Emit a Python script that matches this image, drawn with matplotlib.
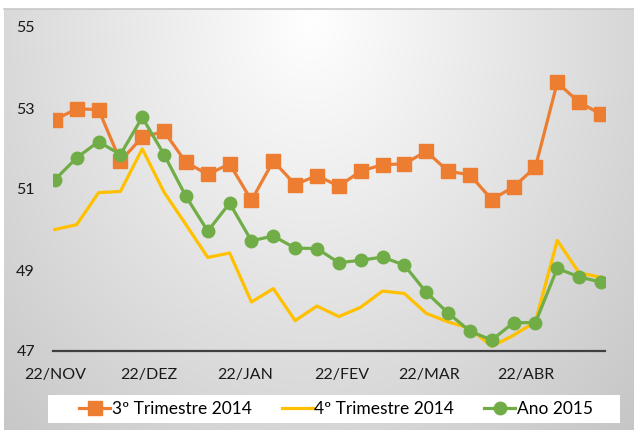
import numpy as np
import pandas as pd
import matplotlib
matplotlib.use("Agg")
import matplotlib.pyplot as plt
import matplotlib.dates as mdates
from matplotlib.patches import Rectangle

# -------- DATA --------
weeks = pd.date_range("2014-11-22", periods=26, freq="7D")

tri3_2014 = [52.71, 52.98, 52.96, 51.69, 52.28, 52.42, 51.66, 51.36, 51.62, 50.72,
             51.69, 51.11, 51.33, 51.07, 51.44, 51.60, 51.62, 51.93, 51.44, 51.35,
             50.74, 51.05, 51.54, 53.63, 53.14, 52.85]
tri4_2014 = [50.00, 50.12, 50.91, 50.94, 51.99, 50.92, 50.12, 49.31, 49.42, 48.21,
             48.54, 47.75, 48.11, 47.85, 48.08, 48.48, 48.42, 47.93, 47.72, 47.56,
             47.11, 47.39, 47.72, 49.73, 48.93, 48.82]
ano_2015 = [51.23, 51.77, 52.17, 51.85, 52.77, 51.85, 50.82, 49.96, 50.65, 49.72,
            49.84, 49.54, 49.53, 49.18, 49.24, 49.32, 49.12, 48.45, 47.94, 47.49,
            47.27, 47.70, 47.70, 49.04, 48.83, 48.70]

tick_dates = ["2014-11-22", "2014-12-22", "2015-01-22", "2015-02-22", "2015-03-22", "2015-04-22"]
tick_labels = ["22/NOV", "22/DEZ", "22/JAN", "22/FEV", "22/MAR", "22/ABR"]
y_ticks = [47, 49, 51, 53, 55]

ORANGE = "#ED7D31"
YELLOW = "#FFC000"
GREEN = "#70AD47"

plt.rcParams['font.family'] = ['Lato', 'DejaVu Sans']

W, H = 634, 430
fig = plt.figure(figsize=(W / 100, H / 100), dpi=100)

# -------- BACKGROUND (radial gray gradient) --------
bg = fig.add_axes([0, 0, 1, 1], zorder=-5)
xx, yy = np.meshgrid(np.arange(4, W), np.arange(9, H))
r = np.sqrt(((xx - 310) / 340.0) ** 2 + ((yy - 20) / 420.0) ** 2)
g = np.clip(255 - 42 * r, 192, 255) / 255.0
bg.imshow(np.dstack([g, g, g]), extent=(4, W, H, 9), aspect="auto")
bg.plot([4, W], [8.5, 8.5], color="#c8c8c8", lw=1.2)
bg.set_xlim(0, W)
bg.set_ylim(H, 0)
bg.axis("off")

# legend box
bg.add_patch(Rectangle((48, 395), 572, 28, facecolor="white", edgecolor="none", zorder=3))

# -------- PLOT --------
x0 = mdates.date2num(pd.Timestamp("2014-11-22"))
ax = fig.add_axes([53 / W, 1 - 351 / H, (605 - 53) / W, (351 - 27) / H])
ax.patch.set_alpha(0)
ax.set_xlim(x0 - 0.6, x0 + 176.3)
ax.set_ylim(47, 55)

ax.plot(weeks, tri3_2014, color=ORANGE, lw=2.3, marker="s", markersize=9.5,
        label="3º Trimestre 2014", zorder=3)
ax.plot(weeks, tri4_2014, color=YELLOW, lw=2.3, label="4º Trimestre 2014", zorder=2)
ax.plot(weeks, ano_2015, color=GREEN, lw=2.3, marker="o", markersize=9,
        label="Ano 2015", zorder=4)

ax.set_xticks(pd.to_datetime(tick_dates))
ax.set_xticklabels(tick_labels)
ax.set_yticks(y_ticks)
ax.tick_params(axis="both", length=0, labelsize=11.5, colors="#1a1a1a")
ax.tick_params(axis="x", pad=12)
ax.tick_params(axis="y", pad=13)

for s in ["top", "right", "left"]:
    ax.spines[s].set_visible(False)
ax.spines["bottom"].set_color("#404040")
ax.spines["bottom"].set_linewidth(1.6)

fig.legend(loc="center", bbox_to_anchor=(336 / W, 1 - 409 / H), ncol=3, frameon=False,
           fontsize=12.5, handlelength=1.8, handletextpad=0.1, columnspacing=1.7,
           borderaxespad=0)

plt.savefig("out.png", dpi=100)
plt.close()
